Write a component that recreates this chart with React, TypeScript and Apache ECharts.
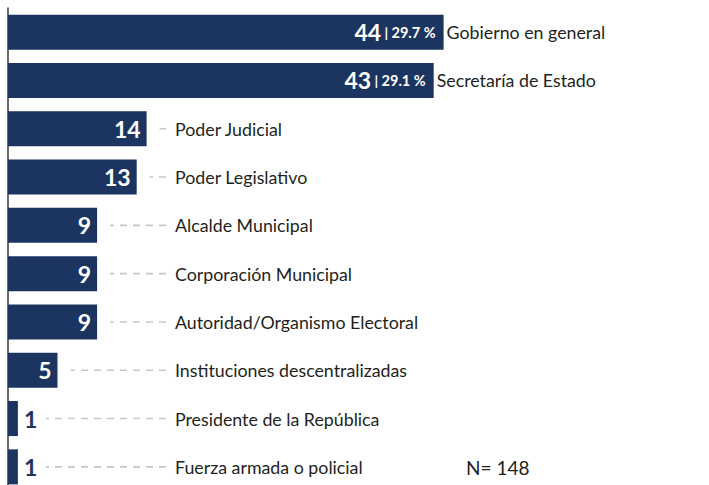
import React, { useEffect, useRef } from "react";
import * as echarts from "echarts";

const categories = [
  "Gobierno en general",
  "Secretaría de Estado",
  "Poder Judicial",
  "Poder Legislativo",
  "Alcalde Municipal",
  "Corporación Municipal",
  "Autoridad/Organismo Electoral",
  "Instituciones descentralizadas",
  "Presidente de la República",
  "Fuerza armada o policial",
];
const counts = [44, 43, 14, 13, 9, 9, 9, 5, 1, 1];
const percents: (string | null)[] = ["29.7 %", "29.1 %", null, null, null, null, null, null, null, null];
const totalLabel = "N= 148";

const NAVY = "#1c3560";
const TEXT = "#231f20";
const FONT = "Lato, 'Open Sans', sans-serif";

export default function App() {
  const ref = useRef<HTMLDivElement>(null);
  useEffect(() => {
    document.body.style.margin = "0";
    document.body.style.overflow = "hidden";
    document.documentElement.style.overflow = "hidden";
    const chart = echarts.init(ref.current!, undefined, { renderer: "svg" });
    const outsideValue = (v: number) => v < 3;
    const barData = counts.map((v, i) => {
      const pct = percents[i];
      if (pct) {
        return {
          value: v,
          label: {
            show: true,
            position: "insideRight",
            distance: 8,
            formatter: `{v|${v}}{s| | }{p|${pct}}`,
            rich: {
              v: { color: "#fff", fontSize: 23, fontWeight: "bold", fontFamily: FONT },
              s: { color: "#fff", fontSize: 14, fontWeight: "bold", fontFamily: FONT },
              p: { color: "#fff", fontSize: 14.5, fontWeight: "bold", fontFamily: FONT },
            },
          },
        };
      }
      if (outsideValue(v)) {
        return {
          value: v,
          label: {
            show: true,
            position: "right",
            distance: 6,
            color: NAVY,
            fontSize: 23,
            fontWeight: "bold",
            fontFamily: FONT,
          },
        };
      }
      return {
        value: v,
        label: {
          show: true,
          position: "insideRight",
          distance: 6,
          color: "#fff",
          fontSize: 23,
          fontWeight: "bold",
          fontFamily: FONT,
        },
      };
    });

    const customData = counts.map((v, i) => [v, i]);
    const NAME_X = 175;
    const LINE_END = 166;

    chart.setOption({
      animation: false,
      grid: { left: 8, top: 8, width: 495, height: 483, containLabel: false },
      xAxis: {
        type: "value",
        min: 0,
        max: 50,
        show: false,
      },
      yAxis: {
        type: "category",
        inverse: true,
        data: categories,
        axisLabel: { show: false },
        axisTick: { show: false },
        axisLine: { show: true, lineStyle: { color: "#3a3a3a", width: 1.5 } },
      },
      series: [
        {
          type: "bar",
          data: barData,
          barWidth: 35,
          itemStyle: { color: NAVY },
          silent: true,
          z: 2,
        },
        {
          type: "custom",
          silent: true,
          clip: false,
          z: 3,
          encode: { x: 0, y: 1 },
          data: customData,
          renderItem: (params: any, api: any) => {
            const i = params.dataIndex;
            const v = api.value(0);
            const p = api.coord([v, i]);
            const name = categories[i];
            if (percents[i]) {
              return {
                type: "text",
                style: {
                  text: name,
                  x: p[0] + 3,
                  y: p[1],
                  verticalAlign: "middle",
                  align: "left",
                  fill: TEXT,
                  fontSize: 17.8,
                  fontFamily: FONT,
                },
              };
            }
            const start = outsideValue(v) ? p[0] + 28 : p[0] + 13;
            return {
              type: "group",
              children: [
                {
                  type: "line",
                  shape: { x1: LINE_END, y1: p[1], x2: start, y2: p[1] },
                  style: { stroke: "#c8c8c8", lineWidth: 1.6, lineDash: [7, 6] },
                },
                {
                  type: "text",
                  style: {
                    text: name,
                    x: NAME_X,
                    y: p[1],
                    verticalAlign: "middle",
                    align: "left",
                    fill: TEXT,
                    fontSize: 17.8,
                    fontFamily: FONT,
                  },
                },
              ],
            };
          },
        },
      ],
      graphic: [
        {
          type: "text",
          x: 466,
          y: 467,
          style: {
            text: totalLabel,
            fill: TEXT,
            fontSize: 19,
            fontFamily: FONT,
            verticalAlign: "middle",
          },
        },
      ],
    });
    return () => chart.dispose();
  }, []);
  return <div ref={ref} style={{ width: 709, height: 500 }} />;
}
